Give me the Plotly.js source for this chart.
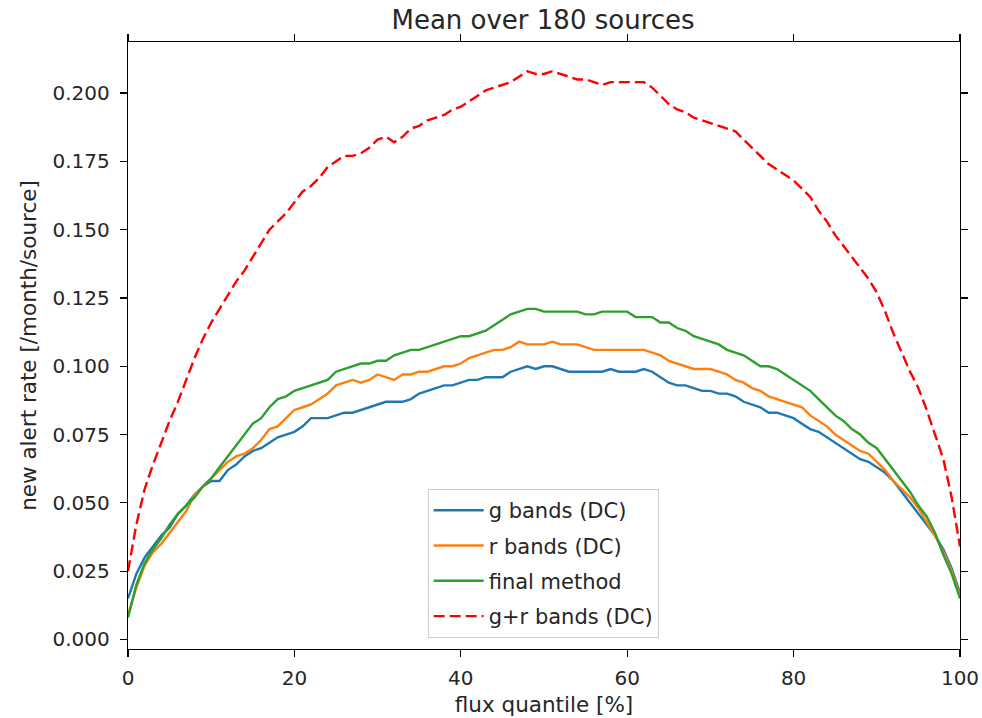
<!DOCTYPE html>
<html>
<head>
<meta charset="utf-8">
<script src="https://cdn.plot.ly/plotly-3.0.1.min.js"></script>
<style>html,body{margin:0;padding:0;background:#fff;}#chart{width:982px;height:718px;}</style>
</head>
<body>
<div id="chart"></div>
<script>
const quantile = [0,1,2,3,4,5,6,7,8,9,10,11,12,13,14,15,16,17,18,19,20,21,22,23,24,25,26,27,28,29,30,31,32,33,34,35,36,37,38,39,40,41,42,43,44,45,46,47,48,49,50,51,52,53,54,55,56,57,58,59,60,61,62,63,64,65,66,67,68,69,70,71,72,73,74,75,76,77,78,79,80,81,82,83,84,85,86,87,88,89,90,91,92,93,94,95,96,97,98,99,100];

const gBands = [0.015,0.024,0.030,0.034,0.038,0.041,0.046,0.049,0.053,0.056,0.058,0.058,0.062,0.064,0.067,0.069,0.070,0.072,0.074,0.075,0.076,0.078,0.081,0.081,0.081,0.082,0.083,0.083,0.084,0.085,0.086,0.087,0.087,0.087,0.088,0.090,0.091,0.092,0.093,0.093,0.094,0.095,0.095,0.096,0.096,0.096,0.098,0.099,0.100,0.099,0.100,0.100,0.099,0.098,0.098,0.098,0.098,0.098,0.099,0.098,0.098,0.098,0.099,0.098,0.096,0.094,0.093,0.093,0.092,0.091,0.091,0.090,0.090,0.089,0.087,0.086,0.085,0.083,0.083,0.082,0.081,0.079,0.077,0.076,0.074,0.072,0.070,0.068,0.066,0.065,0.063,0.061,0.058,0.054,0.050,0.046,0.042,0.038,0.033,0.026,0.017];

const rBands = [0.009,0.019,0.027,0.032,0.035,0.039,0.043,0.047,0.053,0.056,0.059,0.062,0.065,0.067,0.068,0.070,0.073,0.077,0.078,0.081,0.084,0.085,0.086,0.088,0.090,0.093,0.094,0.095,0.094,0.095,0.097,0.096,0.095,0.097,0.097,0.098,0.098,0.099,0.100,0.100,0.101,0.103,0.104,0.105,0.106,0.106,0.107,0.109,0.108,0.108,0.108,0.109,0.108,0.108,0.108,0.107,0.106,0.106,0.106,0.106,0.106,0.106,0.106,0.105,0.104,0.102,0.101,0.100,0.099,0.099,0.099,0.098,0.097,0.095,0.094,0.092,0.091,0.089,0.088,0.087,0.086,0.085,0.082,0.080,0.078,0.075,0.073,0.071,0.069,0.068,0.065,0.062,0.058,0.055,0.052,0.048,0.043,0.038,0.032,0.025,0.016];

const finalMethod = [0.008,0.020,0.028,0.033,0.037,0.042,0.046,0.049,0.052,0.056,0.059,0.063,0.067,0.071,0.075,0.079,0.081,0.085,0.088,0.089,0.091,0.092,0.093,0.094,0.095,0.098,0.099,0.100,0.101,0.101,0.102,0.102,0.104,0.105,0.106,0.106,0.107,0.108,0.109,0.110,0.111,0.111,0.112,0.113,0.115,0.117,0.119,0.120,0.121,0.121,0.120,0.120,0.120,0.120,0.120,0.119,0.119,0.120,0.120,0.120,0.120,0.118,0.118,0.118,0.116,0.116,0.114,0.113,0.111,0.110,0.109,0.108,0.106,0.105,0.104,0.102,0.100,0.100,0.099,0.097,0.095,0.093,0.091,0.088,0.085,0.082,0.080,0.077,0.075,0.072,0.070,0.066,0.062,0.058,0.054,0.049,0.045,0.039,0.031,0.024,0.015];

const grBands = [0.025,0.042,0.055,0.064,0.072,0.080,0.087,0.095,0.103,0.110,0.116,0.121,0.126,0.131,0.135,0.140,0.145,0.150,0.153,0.156,0.160,0.164,0.166,0.169,0.173,0.175,0.177,0.177,0.178,0.180,0.183,0.184,0.182,0.184,0.187,0.188,0.190,0.191,0.192,0.194,0.195,0.197,0.199,0.201,0.202,0.203,0.204,0.206,0.208,0.207,0.207,0.208,0.207,0.206,0.205,0.205,0.204,0.203,0.204,0.204,0.204,0.204,0.204,0.202,0.199,0.196,0.194,0.193,0.191,0.190,0.189,0.188,0.187,0.186,0.183,0.180,0.177,0.174,0.172,0.170,0.168,0.165,0.162,0.157,0.153,0.148,0.144,0.140,0.136,0.132,0.127,0.120,0.112,0.105,0.098,0.092,0.084,0.075,0.066,0.052,0.034];

const seriesNames = ["g bands (DC)", "r bands (DC)", "final method", "g+r bands (DC)"];
const titleText = "Mean over 180 sources";
const xLabel = "flux quantile [%]";
const yLabel = "new alert rate [/month/source]";

const FONT = "DejaVu Sans, sans-serif";
const TXT = "#262626";

function tr(y, name, color, dash, grp) {
  return {
    x: quantile, y: y, name: name, type: "scatter", mode: "lines",
    legendgroup: grp,
    line: {color: color, width: 2.4, dash: dash}
  };
}

const data = [
  tr(gBands, seriesNames[0], "#1f77b4", "solid", "a"),
  tr(rBands, seriesNames[1], "#ff7f0e", "solid", "b"),
  tr(finalMethod, seriesNames[2], "#2ca02c", "solid", "c"),
  tr(grBands, seriesNames[3], "#ff0000", "11px,5px", "d")
];

const axisCommon = {
  showline: true, linecolor: "#000", linewidth: 1.3, mirror: "ticks",
  ticks: "outside", ticklen: 7, tickwidth: 1.2, tickcolor: "#000",
  showgrid: false, zeroline: false,
  tickfont: {family: FONT, size: 20, color: TXT}
};

const layout = {
  width: 982, height: 718,
  paper_bgcolor: "#fff", plot_bgcolor: "#fff",
  margin: {l: 128, r: 22, t: 42, b: 69},
  font: {family: FONT, color: TXT},
  title: {text: titleText, font: {family: FONT, size: 26, color: TXT},
          x: 0.553, xanchor: "center", y: 0.972, yanchor: "middle", yref: "container"},
  xaxis: Object.assign({}, axisCommon, {
    range: [0, 100], dtick: 20, tick0: 0,
    ticklabelstandoff: 4,
    title: {text: xLabel, font: {family: FONT, size: 21.5, color: TXT}, standoff: 7}
  }),
  yaxis: Object.assign({}, axisCommon, {
    range: [-0.0035, 0.2187], dtick: 0.025, tick0: 0, tickformat: ".3f",
    ticklabelstandoff: 6,
    title: {text: yLabel, font: {family: FONT, size: 21.5, color: TXT}, standoff: 10}
  }),
  showlegend: true,
  legend: {
    x: 0.499, xanchor: "center", y: 0.018, yanchor: "bottom",
    bgcolor: "rgba(255,255,255,0.8)", bordercolor: "#cccccc", borderwidth: 1,
    font: {family: FONT, size: 21, color: TXT},
    tracegroupgap: 5, itemwidth: 50
  }
};

Plotly.newPlot("chart", data, layout, {displayModeBar: false, staticPlot: true});
</script>
</body>
</html>
